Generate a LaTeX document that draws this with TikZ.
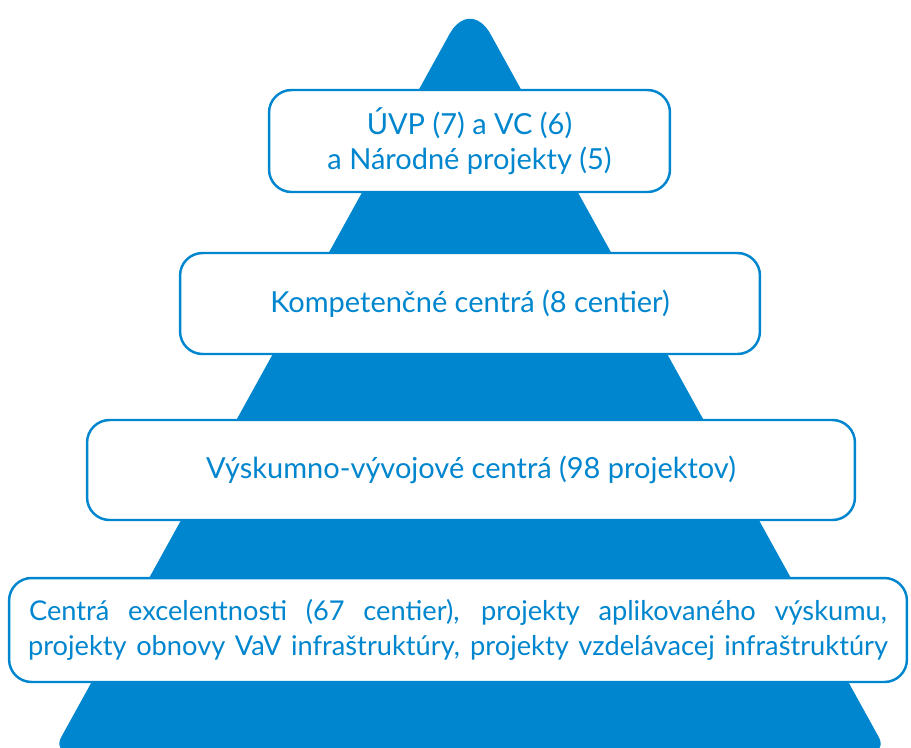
\documentclass[tikz,border=0pt]{standalone}
\usepackage{fontspec}
\setmainfont{Lato}
\usepackage{tikz}
\usetikzlibrary{positioning}
\definecolor{pyrblue}{RGB}{0,134,206}
\tikzstyle{level} = [rectangle, draw=pyrblue, line width=1.4pt, fill=white,
    rounded corners=0.45cm, text=pyrblue, align=center, inner sep=0pt,
    font=\fontsize{16.5}{20}\selectfont]
\tikzstyle{pyramid} = [fill=pyrblue]

\begin{document}
\begin{tikzpicture}[x=0.02cm, y=-0.02cm]
    \useasboundingbox (0,0) rectangle (911,747);
    % Pyramid
    \fill [pyramid] (53,752) [rounded corners=0.85cm] -- (470,-3)
        [rounded corners=0.34cm] -- (887,752) -- cycle;
    % Levels
    \node [level, minimum width=8.02cm, minimum height=2.04cm] (top) at (469.5,141)
        {ÚVP (7) a VC (6)\\a Národné projekty (5)};
    \node [level, minimum width=11.6cm, minimum height=2.02cm] (kc) at (470,303.5)
        {Kompetenčné centrá (8 centier)};
    \node [level, minimum width=15.36cm, minimum height=2cm] (vvc) at (471,470)
        {Výskumno-vývojové centrá (98 projektov)};
    \node [level, minimum width=17.96cm, minimum height=2.08cm,
        font=\fontsize{15.5}{20}\selectfont] (base) at (458,630)
        {\makebox[17.16cm][s]{Centrá excelentnosti (67 centier), projekty aplikovaného výskumu,}\\
         \makebox[17.2cm][s]{projekty obnovy VaV infraštruktúry, projekty vzdelávacej infraštruktúry}};
\end{tikzpicture}
\end{document}
